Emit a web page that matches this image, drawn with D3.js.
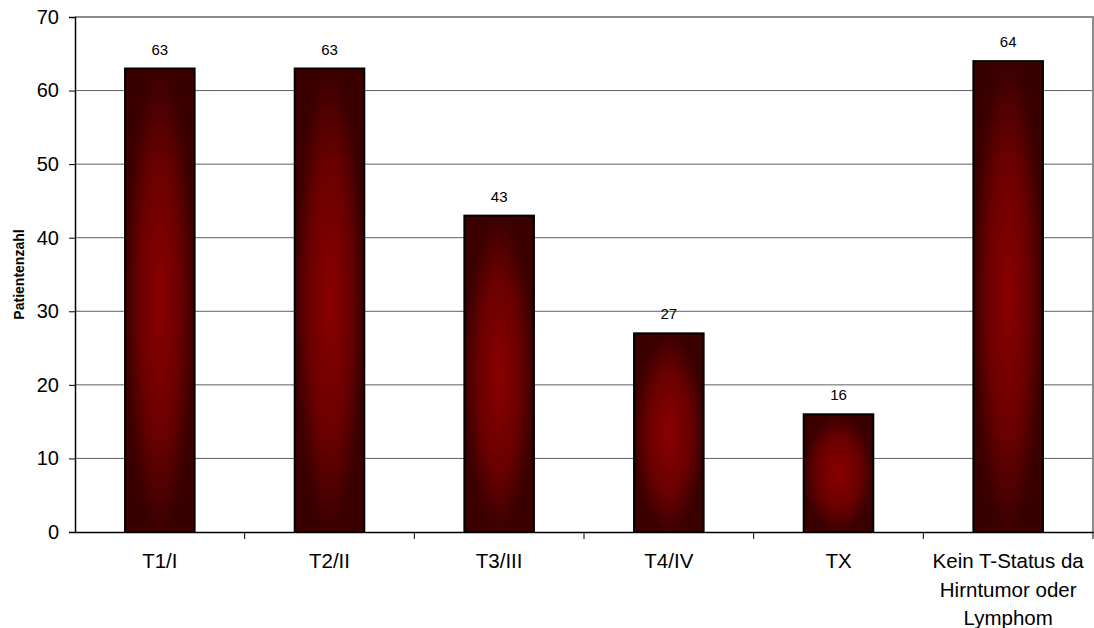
<!DOCTYPE html>
<html><head><meta charset="utf-8">
<script src="https://cdn.jsdelivr.net/npm/d3@7"></script>
<style>body{margin:0;background:#fff;}svg{display:block;font-family:Arial,"Liberation Sans",sans-serif;}</style>
</head><body>
<svg id="c" width="1094" height="628"></svg>
<script>
const categories = ["T1/I", "T2/II", "T3/III", "T4/IV", "TX", "Kein T-Status da Hirntumor oder Lymphom"];
const categoryLines = [["T1/I"], ["T2/II"], ["T3/III"], ["T4/IV"], ["TX"], ["Kein T-Status da", "Hirntumor oder", "Lymphom"]];
const values = [63, 63, 43, 27, 16, 64];
const yTicks = [0, 10, 20, 30, 40, 50, 60, 70];
const yTitle = "Patientenzahl";

const FONT = "Arial, 'Liberation Sans', sans-serif";
const svg = d3.select("#c");
const L = 75, R = 1093, T = 17, B = 532;
const x = d3.scaleBand().domain(categories).range([L, R]).paddingInner(0.59).paddingOuter(0.295);
const y = d3.scaleLinear().domain([0, 70]).range([B, T]);

const defs = svg.append("defs");
const g = defs.append("radialGradient").attr("id", "bg").attr("cx", "50%").attr("cy", "50%").attr("r", "50%");
g.append("stop").attr("offset", "0%").attr("stop-color", "#8a0000");
g.append("stop").attr("offset", "60%").attr("stop-color", "#6a0000");
g.append("stop").attr("offset", "100%").attr("stop-color", "#3a0000");

// gridlines
svg.append("g").selectAll("line").data(yTicks.filter(d => d > 0 && d < 70)).join("line")
  .attr("x1", L).attr("x2", R).attr("y1", d => y(d)).attr("y2", d => y(d))
  .attr("stroke", "#606060").attr("stroke-width", 1);
// top/right frame
svg.append("path").attr("d", `M${L},${y(70)}H${R}V${B}`).attr("fill", "none").attr("stroke", "#8c8c8c").attr("stroke-width", 2);

// bars
svg.append("g").selectAll("rect").data(values).join("rect")
  .attr("x", (d, i) => x(categories[i])).attr("width", x.bandwidth())
  .attr("y", d => y(d)).attr("height", d => B - y(d))
  .attr("fill", "url(#bg)").attr("stroke", "#000").attr("stroke-width", 2);

// value labels
svg.append("g").selectAll("text").data(values).join("text")
  .attr("x", (d, i) => x(categories[i]) + x.bandwidth() / 2).attr("y", d => y(d) - 14)
  .attr("text-anchor", "middle").style("font-size", "15px").style("font-family", FONT).attr("fill", "#000").text(d => d);

// y axis
const ya = svg.append("g").attr("transform", `translate(${L},0)`)
  .call(d3.axisLeft(y).tickValues(yTicks).tickSize(6).tickPadding(10));
ya.select(".domain").attr("stroke", "#000").attr("stroke-width", 1.5);
ya.selectAll(".tick line").attr("stroke", "#000");
ya.selectAll(".tick text").style("font-size", "20px").style("font-family", FONT).attr("fill", "#000");

// x axis
const xa = svg.append("g").attr("transform", `translate(0,${B})`)
  .call(d3.axisBottom(x).tickSize(0).tickFormat(""));
xa.select(".domain").attr("stroke", "#000").attr("stroke-width", 1.5);
const bounds = categories.map(c => x(c) - x.step() * x.paddingInner() / 2).slice(1).concat([R]);
svg.append("g").selectAll("line").data(bounds).join("line")
  .attr("x1", d => d).attr("x2", d => d).attr("y1", B).attr("y2", B + 7).attr("stroke", "#000");

const xl = svg.append("g").selectAll("text").data(categoryLines).join("text")
  .attr("x", (d, i) => x(categories[i]) + x.bandwidth() / 2).attr("y", 568)
  .attr("text-anchor", "middle").style("font-size", "20.5px").style("font-family", FONT).attr("fill", "#000");
xl.selectAll("tspan").data(d => d).join("tspan")
  .attr("x", function () { return this.parentNode.getAttribute("x"); })
  .attr("dy", (d, i) => i === 0 ? 0 : 28.5).text(d => d);

// y title
svg.append("text").attr("transform", `translate(24,${(T + B) / 2}) rotate(-90)`)
  .attr("text-anchor", "middle").style("font-size", "14px").style("font-family", FONT).attr("font-weight", "bold").text(yTitle);
</script>
</body></html>
